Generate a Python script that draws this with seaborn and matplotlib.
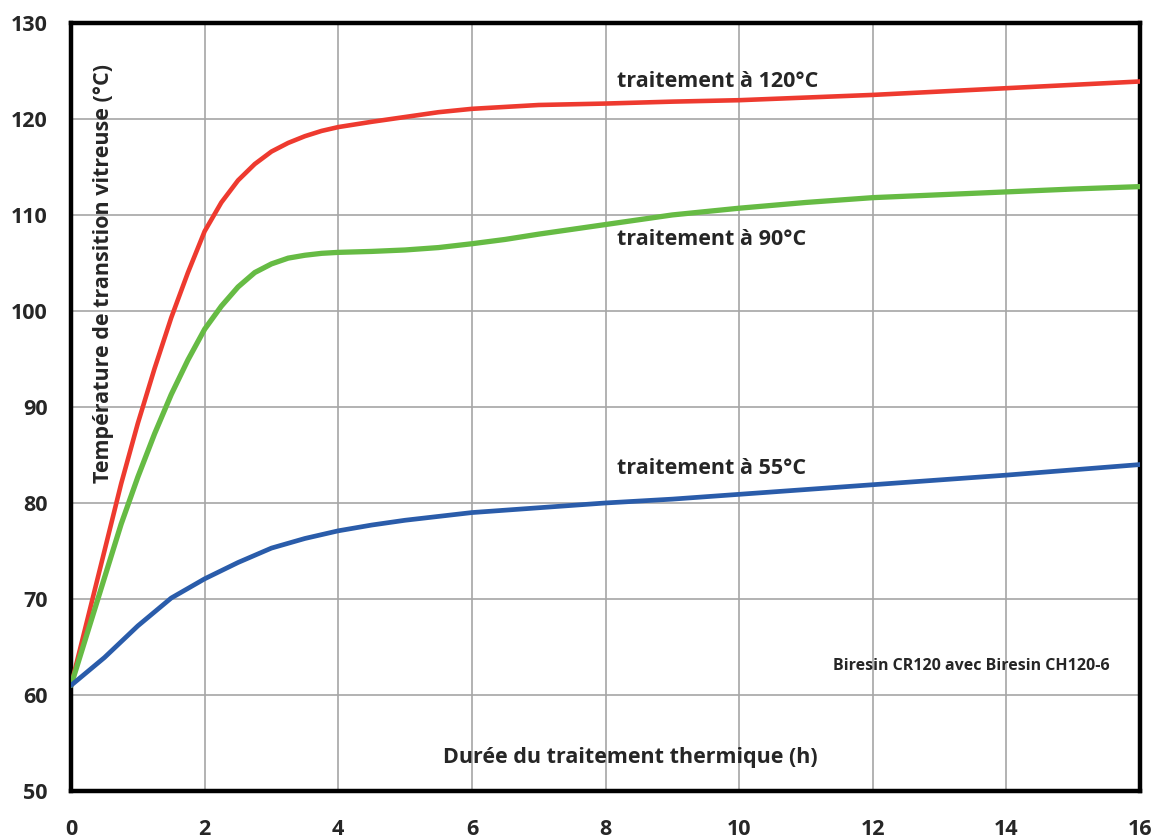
import numpy as np
import pandas as pd
import seaborn as sns
import matplotlib.pyplot as plt

# durée (h) et Tg (°C)
t_120 = [0, 0.25, 0.5, 0.75, 1, 1.25, 1.5, 1.75, 2, 2.25, 2.5, 2.75, 3, 3.25, 3.5, 3.75, 4,
         4.5, 5, 5.5, 6, 7, 8, 9, 10, 12, 14, 16]
tg_120 = [61, 68, 75, 82, 88.3, 94, 99.3, 104, 108.3, 111.3, 113.6, 115.3, 116.6, 117.5, 118.2,
          118.75, 119.15, 119.7, 120.2, 120.7, 121.05, 121.45, 121.6, 121.8, 121.95, 122.5, 123.2, 123.9]

t_90 = [0, 0.25, 0.5, 0.75, 1, 1.25, 1.5, 1.75, 2, 2.25, 2.5, 2.75, 3, 3.25, 3.5, 3.75, 4,
        4.5, 5, 5.5, 6, 6.5, 7, 7.5, 8, 9, 10, 11, 12, 13, 14, 15, 16]
tg_90 = [61, 66.6, 72.2, 77.8, 82.7, 87.2, 91.3, 94.9, 98.1, 100.5, 102.5, 104, 104.9, 105.5, 105.8,
         106.0, 106.1, 106.2, 106.35, 106.6, 107.0, 107.45, 108.0, 108.5, 109.0, 110.0, 110.7,
         111.3, 111.8, 112.1, 112.4, 112.7, 112.95]

t_55 = [0, 0.5, 1, 1.5, 2, 2.5, 3, 3.5, 4, 4.5, 5, 6, 7, 8, 9, 10, 12, 14, 16]
tg_55 = [61, 63.9, 67.2, 70.1, 72.1, 73.8, 75.3, 76.3, 77.1, 77.7, 78.2, 79.0, 79.5, 80.0, 80.4,
         80.9, 81.9, 82.9, 84.0]

series = ['120', '90', '55']
colors = {'120': '#EE3A2F', '90': '#66BB44', '55': '#2A5CAA'}
widths = {'120': 3.3, '90': 3.8, '55': 3.4}

df = pd.concat([
    pd.DataFrame({'t': t_120, 'tg': tg_120, 's': '120'}),
    pd.DataFrame({'t': t_90, 'tg': tg_90, 's': '90'}),
    pd.DataFrame({'t': t_55, 'tg': tg_55, 's': '55'}),
])

sns.set_style('white')
plt.rcParams['font.family'] = ['Open Sans', 'DejaVu Sans']

fig = plt.figure(figsize=(11.55, 8.39), dpi=100)
ax = fig.add_axes([0.0615, 0.0572, 0.9255, 0.9155])

for s in series:
    sns.lineplot(data=df[df.s == s], x='t', y='tg', color=colors[s],
                 linewidth=widths[s], ax=ax, legend=False, zorder=3)

ax.set_xlim(0, 16)
ax.set_ylim(50, 130)
ax.set_xticks(range(0, 17, 2))
ax.set_yticks(range(50, 131, 10))
ax.grid(True, color='#A6A6A6', linewidth=1.2)
ax.tick_params(length=0, labelsize=15.5, pad=17)
ax.tick_params(axis='x', pad=20)
for lab in ax.get_xticklabels() + ax.get_yticklabels():
    lab.set_fontweight('bold')
for sp in ax.spines.values():
    sp.set_color('black')
    sp.set_linewidth(3.2)
ax.set_xlabel('')
ax.set_ylabel('')

fs = 15.5
ax.text(8.17, 123.85, 'traitement à 120°C', fontsize=fs, fontweight='bold', va='center')
ax.text(8.17, 107.4, 'traitement à 90°C', fontsize=fs, fontweight='bold', va='center')
ax.text(8.17, 83.6, 'traitement à 55°C', fontsize=fs, fontweight='bold', va='center')
ax.text(11.4, 63.0, 'Biresin CR120 avec Biresin CH120-6', fontsize=11.5, fontweight='bold', va='center')
ax.text(8.37, 53.5, 'Durée du traitement thermique (h)', fontsize=fs, fontweight='bold',
        va='center', ha='center')
ax.text(0.03, 0.674, 'Température de transition vitreuse (°C)', transform=ax.transAxes,
        rotation=90, fontsize=fs, fontweight='bold', va='center', ha='center')

fig.savefig('out.png', dpi=100)
